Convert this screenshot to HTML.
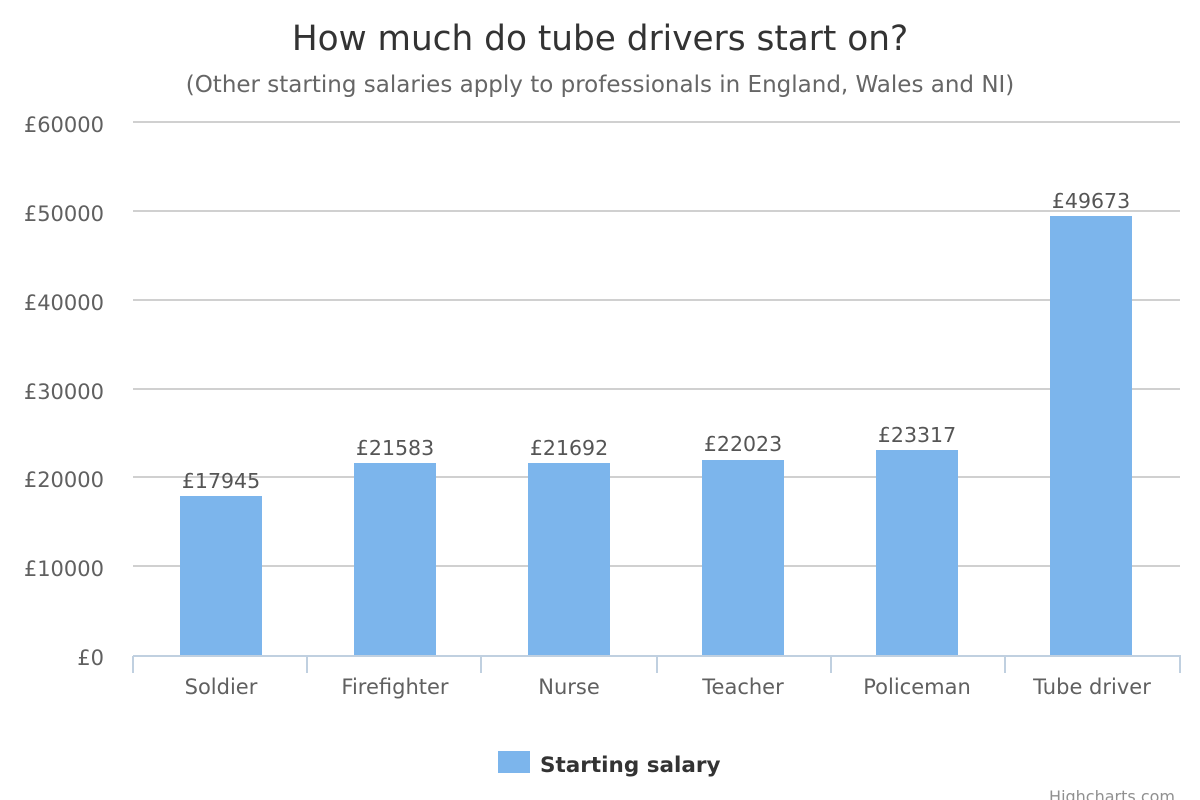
<!DOCTYPE html>
<html><head><meta charset="utf-8"><style>
html,body{margin:0;padding:0;background:#fff;}
svg{display:block;font-family:"DejaVu Sans","Liberation Sans",sans-serif;}
</style></head><body>
<svg width="1200" height="800" viewBox="0 0 1200 800">
<rect width="1200" height="800" fill="#fff"/>
<text x="600" y="50" text-anchor="middle" font-size="34.3" fill="#333">How much do tube drivers start on?</text>
<text x="600" y="92" text-anchor="middle" font-size="23" fill="#666">(Other starting salaries apply to professionals in England, Wales and NI)</text>
<g stroke="#c0c0c0" stroke-width="1.5">
<line x1="133" x2="1180" y1="122" y2="122"/>
<line x1="133" x2="1180" y1="211" y2="211"/>
<line x1="133" x2="1180" y1="300" y2="300"/>
<line x1="133" x2="1180" y1="389" y2="389"/>
<line x1="133" x2="1180" y1="477" y2="477"/>
<line x1="133" x2="1180" y1="566" y2="566"/>
</g>
<g font-size="21" fill="#606060" text-anchor="end">
<text x="104" y="132">£60000</text>
<text x="104" y="221">£50000</text>
<text x="104" y="310">£40000</text>
<text x="104" y="399">£30000</text>
<text x="104" y="487">£20000</text>
<text x="104" y="576">£10000</text>
<text x="104" y="665">£0</text>
</g>
<g fill="#7cb5ec">
<rect x="180" y="496" width="82" height="159"/>
<rect x="354" y="463" width="82" height="192"/>
<rect x="528" y="463" width="82" height="192"/>
<rect x="702" y="460" width="82" height="195"/>
<rect x="876" y="450" width="82" height="205"/>
<rect x="1050" y="216" width="82" height="439"/>
</g>
<g font-size="20.5" fill="#555" text-anchor="middle">
<text x="221" y="488">£17945</text>
<text x="395" y="455">£21583</text>
<text x="569" y="455">£21692</text>
<text x="743" y="451">£22023</text>
<text x="917" y="442">£23317</text>
<text x="1091" y="208">£49673</text>
</g>
<g stroke="#c0d0e0" stroke-width="2">
<line x1="133" x2="1181" y1="656" y2="656"/>
<line x1="133" x2="133" y1="656" y2="673"/>
<line x1="307" x2="307" y1="656" y2="673"/>
<line x1="481" x2="481" y1="656" y2="673"/>
<line x1="657" x2="657" y1="656" y2="673"/>
<line x1="831" x2="831" y1="656" y2="673"/>
<line x1="1005" x2="1005" y1="656" y2="673"/>
<line x1="1180" x2="1180" y1="656" y2="673"/>
</g>
<g font-size="21" fill="#606060" text-anchor="middle">
<text x="221" y="694">Soldier</text>
<text x="395" y="694">Firefighter</text>
<text x="569" y="694">Nurse</text>
<text x="743" y="694">Teacher</text>
<text x="917" y="694">Policeman</text>
<text x="1092" y="694">Tube driver</text>
</g>
<rect x="498" y="751" width="32" height="22" fill="#7cb5ec"/>
<text x="540" y="772" font-size="21.5" font-weight="bold" fill="#333">Starting salary</text>
<text x="1175" y="802" text-anchor="end" font-size="16" fill="#909090">Highcharts.com</text>
</svg>
</body></html>
